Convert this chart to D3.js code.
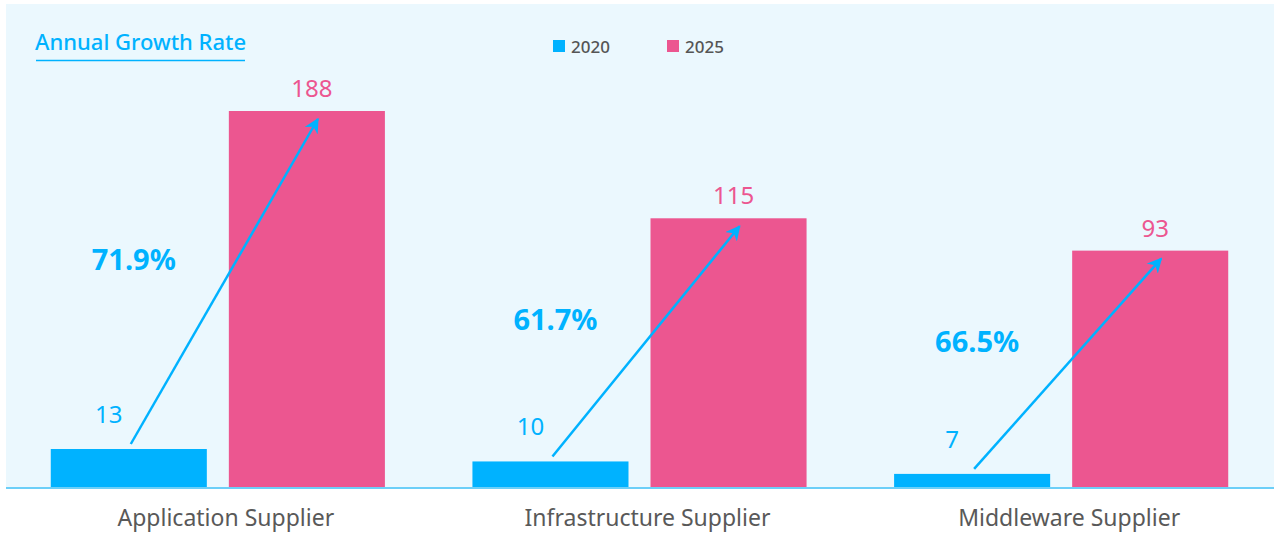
<!DOCTYPE html>
<html>
<head>
<meta charset="utf-8">
<script src="https://cdn.jsdelivr.net/npm/d3@7"></script>
<style>
  body { margin: 0; background: #fff; }
  text { font-family: "Noto Sans", sans-serif; }
</style>
</head>
<body>
<div id="chart"></div>
<script>
// =====================================================================
// data
var categories = ["Application Supplier", "Infrastructure Supplier", "Middleware Supplier"];
var years = ["2020", "2025"];
var values2020 = [13, 10, 7];
var values2025 = [188, 115, 93];
var growthRates = [71.9, 61.7, 66.5];

// =====================================================================
// global variables
var size = { width: 1274, height: 536 };
var baseY = 488;
var colors = { "2020": "#00b2ff", "2025": "#ec5690" };

var svg = d3.select("#chart").append("svg")
    .attr("width", size.width)
    .attr("height", size.height);

// light panel behind the plot
svg.append("rect")
    .attr("x", 6).attr("y", 4)
    .attr("width", size.width - 6).attr("height", baseY - 4)
    .attr("fill", "#ebf8fe");

// scales
var x0 = d3.scaleBand().domain(categories).range([7, 1272])
    .paddingInner(0.2076).paddingOuter(0.1038);
var x1 = d3.scaleBand().domain(years).range([0, x0.bandwidth()])
    .paddingInner(0.1236);

// two hidden value axes (one per year), as in the source's dual-axis layout
var yScale = {
    "2020": d3.scaleLinear().domain([3.6, 13]).range([baseY, 449]),
    "2025": d3.scaleLinear().domain([-68.5, 188]).range([baseY, 111])
};

var rows = categories.map(function(c, i) {
    return { cat: c, v2020: values2020[i], v2025: values2025[i], rate: growthRates[i] };
});

// bars
var groups = svg.selectAll(".group").data(rows).enter().append("g")
    .attr("class", "group")
    .attr("transform", function(d) { return "translate(" + x0(d.cat) + ",0)"; });

years.forEach(function(yr) {
    groups.append("rect")
        .attr("x", x1(yr))
        .attr("y", function(d) { return yScale[yr](d["v" + yr]); })
        .attr("width", x1.bandwidth())
        .attr("height", function(d) { return baseY - yScale[yr](d["v" + yr]); })
        .attr("fill", colors[yr]);
});

// value labels
groups.append("text")
    .attr("x", x1("2020") + x1.bandwidth() / 2 - 20)
    .attr("y", function(d) { return yScale["2020"](d.v2020) - 26; })
    .attr("text-anchor", "middle")
    .attr("font-size", 24)
    .attr("fill", colors["2020"])
    .text(function(d) { return d.v2020; });

groups.append("text")
    .attr("x", x1("2025") + x1.bandwidth() / 2 + 5)
    .attr("y", function(d) { return yScale["2025"](d.v2025) - 14; })
    .attr("text-anchor", "middle")
    .attr("font-size", 24)
    .attr("fill", colors["2025"])
    .text(function(d) { return d.v2025; });

// growth arrows
var defs = svg.append("defs");
defs.append("marker")
    .attr("id", "arrow")
    .attr("viewBox", "0 0 10 10")
    .attr("refX", 9).attr("refY", 5)
    .attr("markerWidth", 6).attr("markerHeight", 6)
    .attr("markerUnits", "strokeWidth")
    .attr("orient", "auto")
    .append("path")
    .attr("d", "M0,0 L10,5 L0,10 L3,5 Z")
    .attr("fill", colors["2020"]);

groups.append("line")
    .attr("x1", x1("2020") + x1.bandwidth() / 2 + 2)
    .attr("y1", function(d) { return yScale["2020"](d.v2020) - 5; })
    .attr("x2", x1("2025") + x1.bandwidth() / 2 + 11)
    .attr("y2", function(d) { return yScale["2025"](d.v2025) + 8; })
    .attr("stroke", colors["2020"])
    .attr("stroke-width", 2.5)
    .attr("marker-end", "url(#arrow)");

// growth rate labels
groups.append("text")
    .attr("x", x1("2020") + x1.bandwidth() / 2 + 5)
    .attr("y", function(d) {
        return (yScale["2020"](d.v2020) + yScale["2025"](d.v2025)) / 2 - 10;
    })
    .attr("text-anchor", "middle")
    .attr("font-size", 29)
    .attr("font-weight", "bold")
    .attr("fill", colors["2020"])
    .text(function(d) { return d.rate.toFixed(1) + "%"; });

// baseline
svg.append("line")
    .attr("x1", 6).attr("x2", size.width)
    .attr("y1", baseY).attr("y2", baseY)
    .attr("stroke", "#6ccff8").attr("stroke-width", 2);

// category labels
svg.selectAll(".catLabel").data(categories).enter().append("text")
    .attr("class", "catLabel")
    .attr("x", function(d) { return x0(d) + x0.bandwidth() / 2 + 8; })
    .attr("y", 526)
    .attr("text-anchor", "middle")
    .attr("font-size", 23)
    .attr("fill", "#595959")
    .text(function(d) { return d; });

// title
svg.append("text")
    .attr("x", 35).attr("y", 50)
    .attr("font-size", 22)
    .attr("font-weight", 500)
    .attr("fill", colors["2020"])
    .text("Annual Growth Rate");
svg.append("line")
    .attr("x1", 36).attr("x2", 245)
    .attr("y1", 60.5).attr("y2", 60.5)
    .attr("stroke", colors["2020"]).attr("stroke-width", 1.5);

// legend
var legend = svg.selectAll(".legend").data(years).enter().append("g")
    .attr("class", "legend")
    .attr("transform", function(d, i) { return "translate(" + (553 + i * 114) + ",40)"; });
legend.append("rect")
    .attr("width", 12).attr("height", 12)
    .attr("fill", function(d) { return colors[d]; });
legend.append("text")
    .attr("x", 18).attr("y", 13)
    .attr("font-size", 17)
    .attr("font-weight", 500)
    .attr("fill", "#555")
    .text(function(d) { return d; });
</script>
</body>
</html>
